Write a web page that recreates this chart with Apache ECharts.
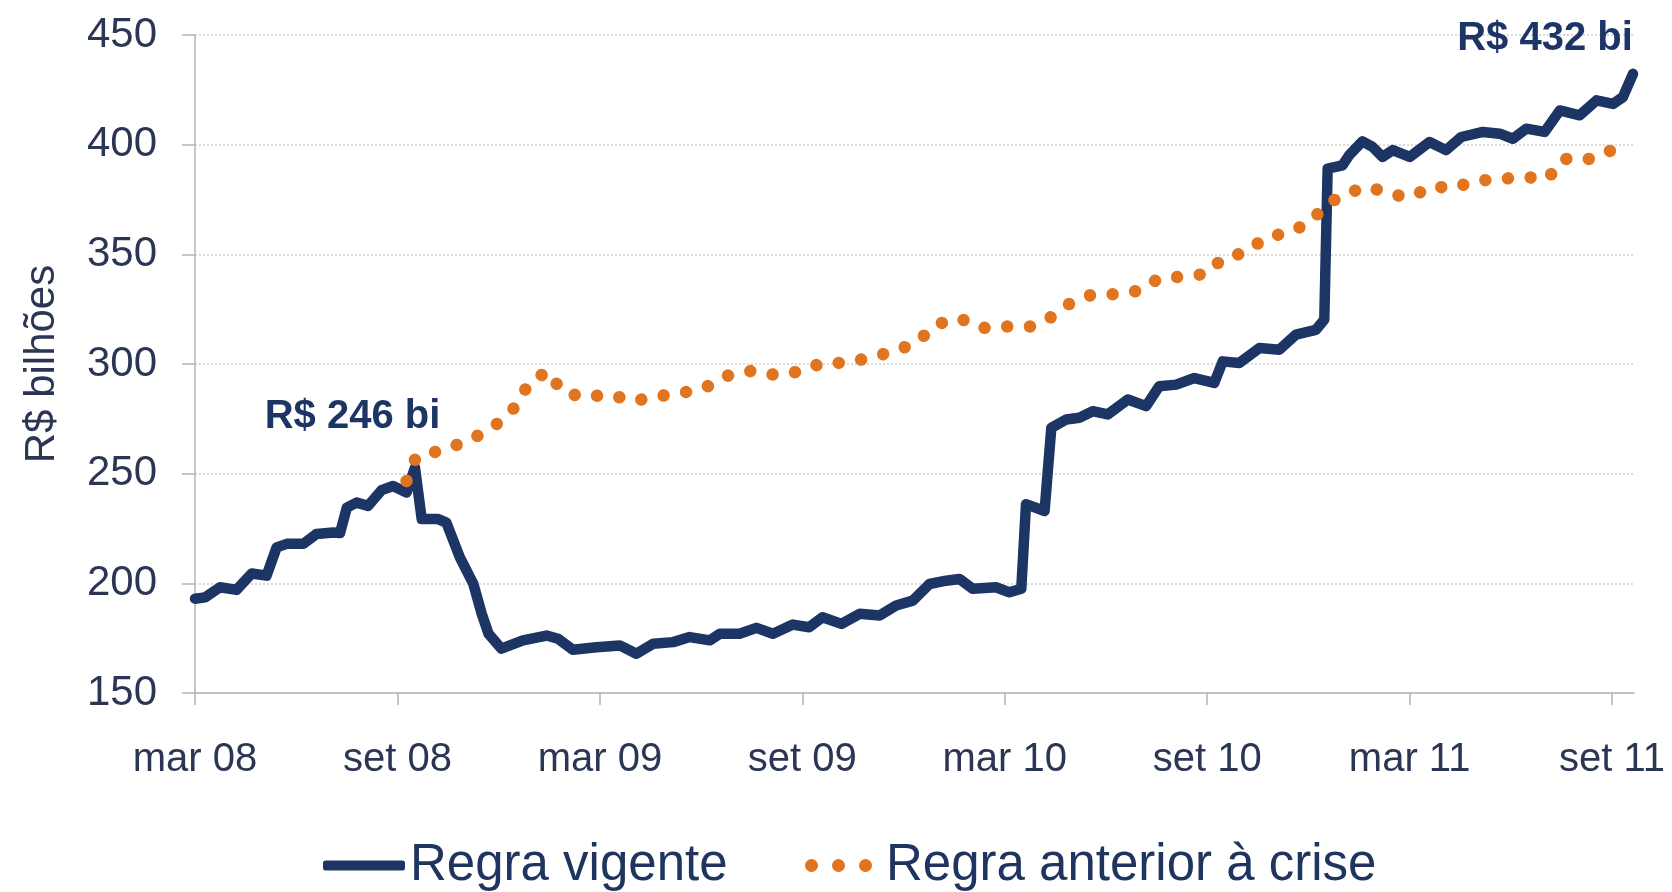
<!DOCTYPE html>
<html>
<head>
<meta charset="utf-8">
<script src="https://cdn.jsdelivr.net/npm/echarts@6/dist/echarts.min.js"></script>
<style>
  html, body { margin: 0; padding: 0; background: #fff; }
  #chart { width: 1672px; height: 892px; }
</style>
</head>
<body>
<div id="chart"></div>
<script>
// x = months since mar 08
const tickMonths = [0, 6, 12, 18, 24, 30, 36, 42];
const tickLabels = ['mar 08', 'set 08', 'mar 09', 'set 09', 'mar 10', 'set 10', 'mar 11', 'set 11'];

const regraVigente = [
  [0, 193], [0.3, 193.6], [0.74, 198.2], [1.23, 197], [1.68, 204.5], [2.12, 203.5],
  [2.42, 216.4], [2.72, 218], [3.21, 218], [3.6, 222.5], [4.1, 223.2], [4.3, 223],
  [4.5, 234.5], [4.79, 236.8], [5.13, 235.3], [5.53, 242.5], [5.87, 244.4], [6.27, 241.4],
  [6.52, 252.7], [6.72, 229.3], [7.21, 229.3], [7.45, 227.7], [7.85, 211.8], [8.25, 199.7],
  [8.5, 186], [8.7, 177], [9.08, 170.2], [9.72, 174], [10.42, 176.2], [10.76, 174.7],
  [11.2, 169.7], [11.9, 170.9], [12.59, 171.7], [13.08, 167.9], [13.58, 172.5], [14.17, 173.2],
  [14.66, 175.5], [15.26, 174], [15.55, 177], [16.14, 177], [16.64, 179.7], [17.13, 177],
  [17.72, 181.2], [18.2, 180], [18.6, 184.5], [19.16, 181.5], [19.7, 186.1], [20.29, 185.3],
  [20.78, 189.9], [21.27, 192.1], [21.77, 199.7], [22.26, 201.2], [22.66, 202], [23.05, 197.5],
  [23.74, 198.2], [24.14, 195.9], [24.49, 197.5], [24.63, 236.1], [25.18, 233], [25.38, 270.9],
  [25.82, 274.7], [26.21, 275.5], [26.61, 278.5], [27.05, 277], [27.65, 283.8], [28.19, 280.8],
  [28.58, 289.9], [29.08, 290.6], [29.62, 293.6], [30.21, 291.4], [30.46, 301.2], [30.95, 300.5],
  [31.55, 307.3], [32.14, 306.5], [32.63, 313.4], [33.22, 315.6], [33.47, 320.2], [33.57, 389.1],
  [34.01, 390.6], [34.21, 395.2], [34.6, 401.5], [34.9, 399], [35.2, 394.4], [35.5, 397.5],
  [36, 394.4], [36.59, 401.2], [37.08, 397.5], [37.53, 403.5], [38.17, 405.8], [38.67, 405],
  [39.06, 402.7], [39.46, 407.3], [40, 405.8], [40.45, 415.6], [41.04, 413.4], [41.54, 420.2],
  [42.03, 418.6], [42.32, 421.7], [42.62, 432.3]
];

const regraAnterior = [
  [6.27, 246.7], [6.55, 257.6], [7.21, 260.3], [7.85, 263.6], [8.46, 267.9], [9.03, 273.5],
  [9.56, 281.5], [9.9, 291.7], [10.47, 296.7], [10.88, 287.3], [11.53, 284.9], [12.29, 286.1],
  [12.97, 283], [13.69, 285.2], [14.41, 286.7], [15.15, 289.5], [15.8, 294.7], [16.54, 297],
  [17.23, 294.9], [17.95, 296.7], [18.59, 300.5], [19.32, 300.5], [20.02, 303], [20.73, 305.8],
  [21.41, 310], [21.94, 317.9], [22.65, 320.9], [23.32, 316.4], [24.02, 317.1], [24.76, 317.1],
  [25.29, 320.5], [25.9, 327.3], [26.56, 331.5], [27.27, 331.8], [27.97, 333.4], [28.55, 338.8],
  [29.27, 339.9], [29.99, 341.1], [30.46, 348.2], [31.15, 350.9], [31.72, 357.6], [32.41, 360],
  [33.05, 364.5], [33.52, 372.7], [34.18, 378.2], [34.82, 380.8], [35.39, 377.3], [36.03, 376.2],
  [36.69, 381.1], [37.26, 380], [37.93, 383.5], [38.69, 384.3], [39.36, 385.3], [40.09, 384.5],
  [40.56, 393.6], [41.2, 392.9], [41.85, 396.4], [42.44, 401.5]
];

const notaInicio = 'R$ 246 bi';
const notaFim = 'R$ 432 bi';

const font = '"Liberation Sans", Arial, sans-serif';
const navy = '#1c3565';
const orange = '#e0741f';
const labelColor = '#2a3654';

const chart = echarts.init(document.getElementById('chart'));

chart.setOption({
  animation: false,
  backgroundColor: '#fff',
  textStyle: { fontFamily: font },
  grid: { left: 195, right: 38, top: 35, bottom: 199, containLabel: false, outerBoundsMode: 'none' },
  legend: [
    {
      data: [{ name: 'Regra vigente', icon: 'roundRect' }],
      left: 318, top: 835,
      itemWidth: 82, itemHeight: 10,
      selectedMode: false,
      itemStyle: { borderWidth: 0 },
      textStyle: { fontSize: 51, color: '#1f3560', fontFamily: font }
    },
    {
      data: [{
        name: 'Regra anterior à crise',
        icon: 'path://M0,6.5a6.5,6.5 0 1,0 13,0a6.5,6.5 0 1,0 -13,0Z M27,6.5a6.5,6.5 0 1,0 13,0a6.5,6.5 0 1,0 -13,0Z M54,6.5a6.5,6.5 0 1,0 13,0a6.5,6.5 0 1,0 -13,0Z'
      }],
      left: 800, top: 835,
      itemWidth: 67, itemHeight: 13,
      selectedMode: false,
      itemStyle: { borderWidth: 0 },
      textStyle: { fontSize: 51, color: '#1f3560', fontFamily: font, padding: [0, 0, 0, 9] }
    }
  ],
  xAxis: {
    type: 'value',
    min: 0,
    max: 42.65,
    interval: 6,
    axisLine: { show: true, lineStyle: { color: '#b4b4b4', width: 1.5 } },
    axisTick: { show: true, length: 12, customValues: tickMonths, lineStyle: { color: '#b4b4b4', width: 1.5 } },
    axisLabel: {
      customValues: tickMonths,
      margin: 47,
      fontSize: 40,
      color: labelColor,
      fontFamily: font,
      formatter: (v) => tickLabels[tickMonths.indexOf(Math.round(v))] || ''
    },
    splitLine: { show: false }
  },
  yAxis: {
    type: 'value',
    min: 150,
    max: 450,
    interval: 50,
    name: 'R$ bilhões',
    nameLocation: 'middle',
    nameGap: 132,
    nameTextStyle: { fontSize: 42, color: labelColor, fontFamily: font },
    axisLine: { show: true, lineStyle: { color: '#b4b4b4', width: 1.5 } },
    axisTick: { show: true, length: 13, lineStyle: { color: '#b4b4b4', width: 1.5 } },
    axisLabel: { margin: 38, fontSize: 42, color: labelColor, fontFamily: font },
    splitLine: { show: true, lineStyle: { color: '#cfcfcf', type: [2, 2], width: 1.5 } }
  },
  series: [
    {
      name: 'Regra vigente',
      type: 'line',
      data: regraVigente,
      showSymbol: false,
      symbol: 'none',
      color: navy,
      lineStyle: { color: navy, width: 10.5, join: 'round', cap: 'round' },
      markPoint: {
        symbol: 'circle',
        symbolSize: 0,
        data: [{ coord: regraVigente[regraVigente.length - 1], name: notaFim }],
        label: {
          show: true, position: 'inside', offset: [-88, -35],
          formatter: (p) => p.name,
          fontSize: 40, fontWeight: 'bold', color: navy, fontFamily: font
        }
      },
      z: 2
    },
    {
      name: 'Regra anterior à crise',
      type: 'line',
      data: regraAnterior,
      showSymbol: false,
      symbol: 'none',
      color: orange,
      lineStyle: { color: orange, width: 12.5, type: [0.01, 22.7], cap: 'round', join: 'round' },
      markPoint: {
        symbol: 'circle',
        symbolSize: 0,
        data: [{ coord: regraAnterior[0], name: notaInicio }],
        label: {
          show: true, position: 'inside', offset: [-54, -64],
          formatter: (p) => p.name,
          fontSize: 40, fontWeight: 'bold', color: navy, fontFamily: font
        }
      },
      z: 3
    }
  ]
});

window.addEventListener('resize', chart.resize);
</script>
</body>
</html>
